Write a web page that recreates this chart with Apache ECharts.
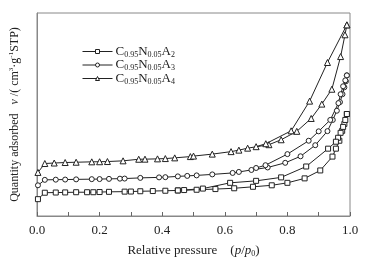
<!DOCTYPE html>
<html>
<head>
<meta charset="utf-8">
<script src="https://cdn.jsdelivr.net/npm/echarts@6/dist/echarts.min.js"></script>
<style>
  html, body { margin: 0; padding: 0; background: #fff; }
  #chart { width: 365px; height: 263px; }
</style>
</head>
<body>
<div id="chart"></div>
<script>
// sample names (legend)
const names = ['C0.95N0.05A2', 'C0.95N0.05A3', 'C0.95N0.05A4'];
const symbols = ['rect', 'circle', 'triangle'];
const xTicks = [0, 0.2, 0.4, 0.6, 0.8, 1.0];

// A2 (squares): adsorption then desorption branch
const a2AdsP = [0.003, 0.025, 0.06, 0.09, 0.125, 0.16, 0.18, 0.20, 0.23, 0.28, 0.30, 0.33, 0.37, 0.41, 0.45, 0.51, 0.57, 0.63, 0.69, 0.75, 0.80, 0.855, 0.905, 0.944, 0.955, 0.966, 0.975, 0.982, 0.99];
const a2AdsV = [17, 23.5, 23.7, 23.8, 24, 24, 24, 24.2, 24.4, 24.6, 24.7, 25, 25.2, 25.5, 25.8, 26.5, 27.2, 28, 29.5, 31, 33.5, 38, 46, 60, 68, 76, 86, 93, 103];
const a2DesP = [0.99, 0.985, 0.978, 0.97, 0.962, 0.955, 0.93, 0.86, 0.78, 0.70, 0.617, 0.53, 0.47, 0.45];
const a2DesV = [103, 97, 90, 84, 79, 75, 68, 50, 39, 35.5, 33.5, 27.7, 26.2, 25.8];

// A3 (circles)
const a3AdsP = [0.003, 0.025, 0.06, 0.09, 0.125, 0.175, 0.2, 0.23, 0.265, 0.28, 0.33, 0.39, 0.41, 0.45, 0.48, 0.51, 0.56, 0.625, 0.645, 0.685, 0.737, 0.793, 0.842, 0.889, 0.928, 0.945, 0.958, 0.968, 0.976, 0.982, 0.987, 0.99];
const a3AdsV = [31, 36.5, 36.7, 36.8, 37, 37.2, 37.3, 37.5, 37.7, 37.8, 38.5, 39, 39.2, 40, 40.5, 41, 42, 43.5, 44.5, 46.5, 49, 53.7, 60.3, 71.5, 85.7, 97, 106.3, 115, 123, 130, 136, 142];
const a3DesP = [0.99, 0.985, 0.978, 0.97, 0.963, 0.937, 0.90, 0.868, 0.80, 0.73, 0.70];
const a3DesV = [142, 137, 131, 123, 114, 97, 85.5, 76, 62.5, 51.3, 48.5];

// A4 (triangles)
const a4AdsP = [0.003, 0.025, 0.055, 0.09, 0.125, 0.175, 0.2, 0.225, 0.275, 0.325, 0.345, 0.385, 0.41, 0.44, 0.49, 0.5, 0.56, 0.62, 0.645, 0.673, 0.741, 0.78, 0.83, 0.876, 0.91, 0.942, 0.97, 0.984, 0.99];
const a4AdsV = [44, 53, 53.5, 54, 54.3, 54.7, 54.8, 55, 55.7, 57.3, 57.4, 57.7, 58, 58.7, 60, 60.5, 62.5, 65, 66.5, 68.5, 72, 77, 85.5, 98.5, 113, 128, 161, 183, 193];
const a4DesP = [0.99, 0.928, 0.871, 0.812, 0.731, 0.70];
const a4DesV = [193, 155, 116, 86, 73, 70];

function pairs(p, v) {
  return p.map((x, i) => [x, v[i]]);
}

const loops = [
  pairs(a2AdsP, a2AdsV).concat(pairs(a2DesP, a2DesV)),
  pairs(a3AdsP, a3AdsV).concat(pairs(a3DesP, a3DesV)),
  pairs(a4AdsP, a4AdsV).concat(pairs(a4DesP, a4DesV))
];

const ink = '#222';
const serif = 'Liberation Serif';

let chart = echarts.init(document.getElementById('chart'), null, { renderer: 'canvas' });
let options = {
  animation: false,
  textStyle: { fontFamily: serif, color: ink },
  grid: { left: 34, right: 15, top: 13, bottom: 45, show: true, borderColor: '#888', borderWidth: 1 },
  legend: {
    orient: 'vertical',
    left: 77,
    top: 40,
    itemWidth: 30,
    itemHeight: 5,
    itemGap: 0,
    data: names,
    itemStyle: { color: '#fff', borderColor: ink, borderWidth: 1 },
    lineStyle: { color: ink, width: 1 },
    formatter: function (name) {
      return name.replace(/([A-Z])([\d.]+)/g, '{m|$1}{s|$2}');
    },
    textStyle: {
      fontFamily: serif,
      color: ink,
      padding: [0, 0, 0, -2],
      rich: {
        m: { fontFamily: serif, fontSize: 13, color: ink, lineHeight: 14 },
        s: { fontFamily: serif, fontSize: 8, color: ink, verticalAlign: 'bottom', padding: [6, 0, 0, 0] }
      }
    }
  },
  xAxis: {
    type: 'value',
    min: 0,
    max: 1,
    interval: 0.2,
    name: 'Relative pressure    ({i|p}/{i|p}{sub|0})',
    nameLocation: 'middle',
    nameGap: 28,
    nameTextStyle: {
      fontFamily: serif, fontSize: 13, color: ink,
      rich: {
        i: { fontFamily: serif, fontStyle: 'italic', fontSize: 13, color: ink },
        sub: { fontFamily: serif, fontSize: 8, color: ink, verticalAlign: 'bottom', padding: [6, 0, 0, 0] }
      }
    },
    axisLine: { lineStyle: { color: '#888' } },
    axisTick: { inside: true, length: 4, lineStyle: { color: '#666' } },
    minorTick: { show: true, splitNumber: 2, length: 4, lineStyle: { color: '#666' } },
    splitLine: { show: false },
    axisLabel: {
      fontFamily: serif, fontSize: 13, color: ink, margin: 8,
      formatter: v => xTicks.indexOf(Math.round(v * 10) / 10) >= 0 ? v.toFixed(1) : ''
    }
  },
  yAxis: {
    type: 'value',
    min: 0,
    max: 205,
    name: 'Quantity adsorbed   {i|v} /( cm{sup|3}·g{sup|-1}STP)',
    nameLocation: 'middle',
    nameRotate: 90,
    nameGap: 16,
    nameTextStyle: {
      fontFamily: serif, fontSize: 12, color: ink,
      rich: {
        i: { fontFamily: serif, fontStyle: 'italic', fontSize: 12, color: ink },
        sup: { fontFamily: serif, fontSize: 7, color: ink, verticalAlign: 'top', padding: [0, 0, 6, 0] }
      }
    },
    axisLine: { show: true, lineStyle: { color: '#888' } },
    axisTick: { show: false },
    axisLabel: { show: false },
    splitLine: { show: false }
  },
  series: names.map((n, k) => ({
    name: n,
    type: 'line',
    data: loops[k],
    symbol: symbols[k],
    symbolSize: k === 2 ? 6 : 5,
    showAllSymbol: true,
    clip: false,
    lineStyle: { color: ink, width: 1 },
    itemStyle: { color: '#fff', borderColor: ink, borderWidth: 1 }
  }))
};
chart.setOption(options);
</script>
</body>
</html>
